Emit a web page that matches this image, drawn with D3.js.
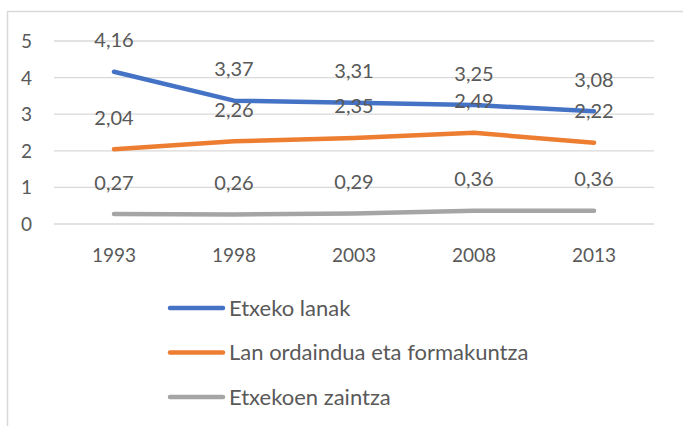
<!DOCTYPE html>
<meta charset="utf-8">
<style>
  body { margin: 0; background: #fff; }
  text { font-family: Lato, "Open Sans", sans-serif; fill: #595959; }
</style>
<script src="https://d3js.org/d3.v7.min.js"></script>
<div id="my_dataviz"></div>
<script>
// data
var years = ["1993", "1998", "2003", "2008", "2013"];
var seriesNames = ["Etxeko lanak", "Lan ordaindua eta formakuntza", "Etxekoen zaintza"];
var etxekoLanak = [4.16, 3.37, 3.31, 3.25, 3.08];
var lanOrdaindua = [2.04, 2.26, 2.35, 2.49, 2.22];
var zaintza = [0.27, 0.26, 0.29, 0.36, 0.36];
var yTicks = [0, 1, 2, 3, 4, 5];
var colors = ["#4472C4", "#ED7D31", "#A5A5A5"];

var series = [etxekoLanak, lanOrdaindua, zaintza];

var W = 683, H = 426;
var svg = d3.select("#my_dataviz")
  .append("svg")
  .attr("width", W)
  .attr("height", H);

// chart frame (cropped on right and bottom)
svg.append("path")
  .attr("d", "M7.5,430 V11.5 H690")
  .attr("fill", "none")
  .attr("stroke", "#D9D9D9")
  .attr("stroke-width", 1.5);

var x = d3.scaleBand().domain(years).range([54, 654]);
var y = d3.scaleLinear().domain([0, 5]).range([224, 41]);

// gridlines
svg.selectAll(".grid")
  .data(yTicks).enter()
  .append("line")
  .attr("x1", 54).attr("x2", 654)
  .attr("y1", function(d) { return y(d); })
  .attr("y2", function(d) { return y(d); })
  .attr("stroke", "#D9D9D9")
  .attr("stroke-width", 1.3);

// y axis labels
svg.selectAll(".ylab")
  .data(yTicks).enter()
  .append("text")
  .attr("x", 32)
  .attr("y", function(d) { return y(d) + 7; })
  .attr("text-anchor", "end")
  .style("font-size", "19px")
  .text(function(d) { return d; });

// x axis labels
svg.selectAll(".xlab")
  .data(years).enter()
  .append("text")
  .attr("x", function(d) { return x(d) + x.bandwidth() / 2; })
  .attr("y", 262)
  .attr("text-anchor", "middle")
  .style("font-size", "19px")
  .text(function(d) { return d; });

var line = d3.line()
  .x(function(d, i) { return x(years[i]) + x.bandwidth() / 2; })
  .y(function(d) { return y(d); });

series.forEach(function(vals, s) {
  svg.append("path")
    .attr("d", line(vals))
    .attr("fill", "none")
    .attr("stroke", colors[s])
    .attr("stroke-width", 4.5)
    .attr("stroke-linecap", "round")
    .attr("stroke-linejoin", "round");
});

// data labels
series.forEach(function(vals, s) {
  svg.selectAll(".lab" + s)
    .data(vals).enter()
    .append("text")
    .attr("x", function(d, i) { return x(years[i]) + x.bandwidth() / 2; })
    .attr("y", function(d) { return y(d) - 24.5; })
    .attr("text-anchor", "middle")
    .style("font-size", "20px")
    .text(function(d) { return d.toFixed(2).replace(".", ","); });
});

// legend
var legend = svg.selectAll(".legend")
  .data(seriesNames).enter()
  .append("g")
  .attr("transform", function(d, i) { return "translate(0," + (308 + i * 44.5) + ")"; });

legend.append("line")
  .attr("x1", 170).attr("x2", 223)
  .attr("stroke", function(d, i) { return colors[i]; })
  .attr("stroke-width", 4.5)
  .attr("stroke-linecap", "round");

legend.append("text")
  .attr("x", 229)
  .attr("y", 7.5)
  .style("font-size", "22px")
  .text(function(d) { return d; });
</script>
